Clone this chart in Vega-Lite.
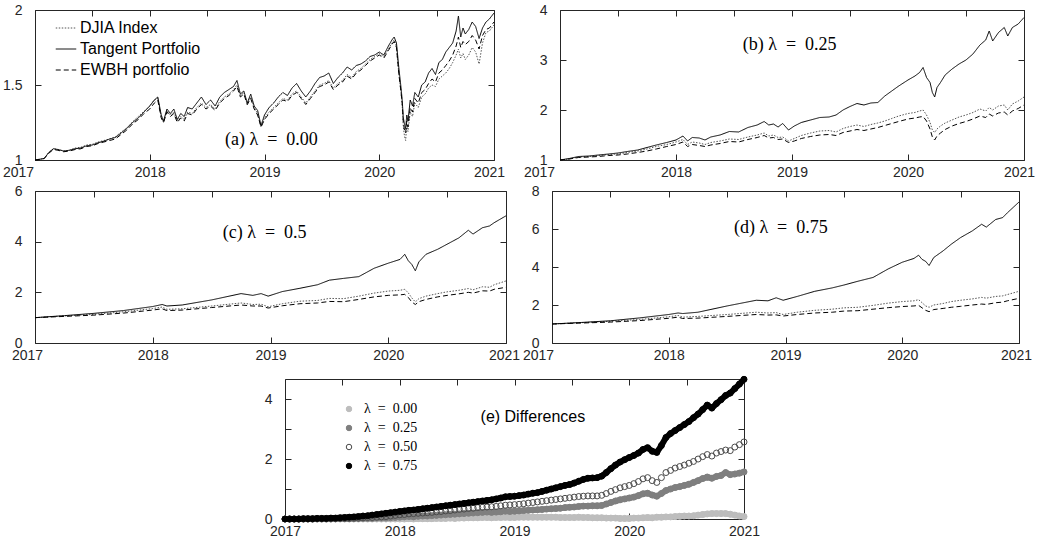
{
"$schema": "https://vega.github.io/schema/vega-lite/v6.json",
"padding": {"left": 1, "top": 2, "right": 5, "bottom": 5},
"background": "white",
"config": {
  "view": {"stroke": "#262626", "strokeWidth": 1},
  "font": "Liberation Sans",
  "axis": {"domain": false, "grid": false, "labelFlush": false, "labelOverlap": false, "tickColor": "#262626", "tickSize": -6, "labelFont": "Liberation Sans", "labelFontSize": 14, "labelColor": "#262626", "title": null},
  "legend": {"labelFont": "Liberation Sans", "labelColor": "#000"}
},
"datasets": {
"A": [
{"t":2017.00,"T":1.000,"E":1.000,"D":1.000},{"t":2017.04,"T":1.005,"E":1.003,"D":1.005},{"t":2017.08,"T":1.01,"E":1.01,"D":1.01},{"t":2017.12,"T":1.05,"E":1.045,"D":1.05},{"t":2017.16,"T":1.075,"E":1.07,"D":1.075},{"t":2017.20,"T":1.07,"E":1.065,"D":1.07},{"t":2017.25,"T":1.06,"E":1.055,"D":1.06},{"t":2017.30,"T":1.065,"E":1.06,"D":1.065},{"t":2017.35,"T":1.075,"E":1.07,"D":1.08},{"t":2017.40,"T":1.08,"E":1.075,"D":1.085},{"t":2017.45,"T":1.095,"E":1.09,"D":1.10},{"t":2017.50,"T":1.10,"E":1.095,"D":1.105},{"t":2017.55,"T":1.115,"E":1.11,"D":1.12},{"t":2017.60,"T":1.125,"E":1.12,"D":1.13},{"t":2017.65,"T":1.14,"E":1.13,"D":1.14},{"t":2017.70,"T":1.15,"E":1.14,"D":1.155},{"t":2017.75,"T":1.18,"E":1.17,"D":1.185},{"t":2017.80,"T":1.21,"E":1.20,"D":1.215},{"t":2017.85,"T":1.25,"E":1.24,"D":1.255},{"t":2017.90,"T":1.28,"E":1.27,"D":1.29},{"t":2017.95,"T":1.32,"E":1.31,"D":1.325},{"t":2018.00,"T":1.36,"E":1.34,"D":1.36},{"t":2018.04,"T":1.40,"E":1.38,"D":1.40},{"t":2018.07,"T":1.42,"E":1.40,"D":1.41},{"t":2018.10,"T":1.30,"E":1.28,"D":1.29},{"t":2018.12,"T":1.26,"E":1.25,"D":1.25},{"t":2018.15,"T":1.34,"E":1.32,"D":1.33},{"t":2018.18,"T":1.31,"E":1.29,"D":1.30},{"t":2018.21,"T":1.34,"E":1.31,"D":1.32},{"t":2018.24,"T":1.27,"E":1.25,"D":1.26},{"t":2018.27,"T":1.31,"E":1.28,"D":1.29},{"t":2018.30,"T":1.29,"E":1.26,"D":1.27},{"t":2018.33,"T":1.35,"E":1.31,"D":1.32},{"t":2018.37,"T":1.34,"E":1.30,"D":1.31},{"t":2018.41,"T":1.38,"E":1.34,"D":1.35},{"t":2018.45,"T":1.42,"E":1.37,"D":1.38},{"t":2018.49,"T":1.37,"E":1.34,"D":1.35},{"t":2018.53,"T":1.40,"E":1.36,"D":1.37},{"t":2018.57,"T":1.36,"E":1.33,"D":1.34},{"t":2018.61,"T":1.42,"E":1.38,"D":1.39},{"t":2018.65,"T":1.45,"E":1.41,"D":1.42},{"t":2018.69,"T":1.47,"E":1.43,"D":1.44},{"t":2018.73,"T":1.49,"E":1.46,"D":1.47},{"t":2018.76,"T":1.53,"E":1.49,"D":1.50},{"t":2018.79,"T":1.44,"E":1.42,"D":1.43},{"t":2018.82,"T":1.46,"E":1.44,"D":1.45},{"t":2018.85,"T":1.38,"E":1.37,"D":1.37},{"t":2018.88,"T":1.44,"E":1.41,"D":1.42},{"t":2018.91,"T":1.36,"E":1.34,"D":1.35},{"t":2018.94,"T":1.33,"E":1.30,"D":1.31},{"t":2018.97,"T":1.23,"E":1.22,"D":1.22},{"t":2019.00,"T":1.30,"E":1.27,"D":1.28},{"t":2019.04,"T":1.35,"E":1.31,"D":1.32},{"t":2019.08,"T":1.38,"E":1.34,"D":1.35},{"t":2019.12,"T":1.42,"E":1.37,"D":1.38},{"t":2019.16,"T":1.45,"E":1.40,"D":1.41},{"t":2019.20,"T":1.43,"E":1.39,"D":1.40},{"t":2019.24,"T":1.48,"E":1.43,"D":1.44},{"t":2019.28,"T":1.51,"E":1.45,"D":1.46},{"t":2019.32,"T":1.46,"E":1.41,"D":1.42},{"t":2019.36,"T":1.42,"E":1.37,"D":1.38},{"t":2019.40,"T":1.46,"E":1.41,"D":1.42},{"t":2019.44,"T":1.51,"E":1.45,"D":1.46},{"t":2019.48,"T":1.55,"E":1.49,"D":1.50},{"t":2019.52,"T":1.56,"E":1.50,"D":1.51},{"t":2019.56,"T":1.58,"E":1.52,"D":1.53},{"t":2019.60,"T":1.51,"E":1.47,"D":1.48},{"t":2019.64,"T":1.55,"E":1.50,"D":1.51},{"t":2019.68,"T":1.58,"E":1.52,"D":1.53},{"t":2019.72,"T":1.62,"E":1.56,"D":1.57},{"t":2019.76,"T":1.60,"E":1.54,"D":1.55},{"t":2019.80,"T":1.63,"E":1.58,"D":1.59},{"t":2019.84,"T":1.64,"E":1.60,"D":1.61},{"t":2019.88,"T":1.66,"E":1.63,"D":1.64},{"t":2019.92,"T":1.69,"E":1.66,"D":1.67},{"t":2019.96,"T":1.70,"E":1.68,"D":1.69},{"t":2020.00,"T":1.72,"E":1.70,"D":1.71},{"t":2020.04,"T":1.70,"E":1.68,"D":1.69},{"t":2020.08,"T":1.76,"E":1.73,"D":1.74},{"t":2020.11,"T":1.80,"E":1.77,"D":1.78},{"t":2020.13,"T":1.82,"E":1.79,"D":1.80},{"t":2020.15,"T":1.78,"E":1.75,"D":1.76},{"t":2020.17,"T":1.62,"E":1.58,"D":1.58},{"t":2020.19,"T":1.48,"E":1.45,"D":1.45},{"t":2020.20,"T":1.40,"E":1.38,"D":1.36},{"t":2020.21,"T":1.28,"E":1.25,"D":1.22},{"t":2020.22,"T":1.24,"E":1.20,"D":1.16},{"t":2020.23,"T":1.21,"E":1.18,"D":1.13},{"t":2020.24,"T":1.30,"E":1.26,"D":1.24},{"t":2020.25,"T":1.26,"E":1.22,"D":1.19},{"t":2020.27,"T":1.40,"E":1.35,"D":1.32},{"t":2020.29,"T":1.36,"E":1.32,"D":1.29},{"t":2020.31,"T":1.45,"E":1.41,"D":1.38},{"t":2020.34,"T":1.42,"E":1.38,"D":1.35},{"t":2020.37,"T":1.50,"E":1.45,"D":1.42},{"t":2020.40,"T":1.52,"E":1.47,"D":1.44},{"t":2020.43,"T":1.58,"E":1.51,"D":1.48},{"t":2020.46,"T":1.61,"E":1.54,"D":1.50},{"t":2020.49,"T":1.57,"E":1.52,"D":1.49},{"t":2020.52,"T":1.65,"E":1.58,"D":1.54},{"t":2020.55,"T":1.67,"E":1.60,"D":1.56},{"t":2020.58,"T":1.72,"E":1.63,"D":1.58},{"t":2020.61,"T":1.75,"E":1.66,"D":1.61},{"t":2020.64,"T":1.78,"E":1.70,"D":1.65},{"t":2020.67,"T":1.86,"E":1.76,"D":1.70},{"t":2020.69,"T":1.96,"E":1.82,"D":1.74},{"t":2020.71,"T":1.82,"E":1.75,"D":1.68},{"t":2020.73,"T":1.88,"E":1.79,"D":1.71},{"t":2020.75,"T":1.84,"E":1.77,"D":1.67},{"t":2020.78,"T":1.87,"E":1.79,"D":1.70},{"t":2020.81,"T":1.92,"E":1.83,"D":1.75},{"t":2020.84,"T":1.89,"E":1.80,"D":1.72},{"t":2020.87,"T":1.81,"E":1.74,"D":1.64},{"t":2020.90,"T":1.88,"E":1.83,"D":1.78},{"t":2020.93,"T":1.92,"E":1.87,"D":1.85},{"t":2020.96,"T":1.94,"E":1.88,"D":1.86},{"t":2021.00,"T":1.98,"E":1.92,"D":1.90}
],
"B": [
{"t":2017.00,"T":1.00,"D":1.00,"E":1.00},{"t":2017.08,"T":1.03,"D":1.02,"E":1.02},{"t":2017.16,"T":1.07,"D":1.06,"E":1.05},{"t":2017.25,"T":1.08,"D":1.07,"E":1.06},{"t":2017.33,"T":1.10,"D":1.09,"E":1.07},{"t":2017.42,"T":1.12,"D":1.11,"E":1.09},{"t":2017.50,"T":1.14,"D":1.12,"E":1.10},{"t":2017.58,"T":1.17,"D":1.15,"E":1.12},{"t":2017.67,"T":1.20,"D":1.18,"E":1.15},{"t":2017.75,"T":1.25,"D":1.22,"E":1.18},{"t":2017.83,"T":1.30,"D":1.27,"E":1.22},{"t":2017.92,"T":1.35,"D":1.31,"E":1.27},{"t":2018.00,"T":1.40,"D":1.36,"E":1.31},{"t":2018.06,"T":1.48,"D":1.41,"E":1.36},{"t":2018.10,"T":1.38,"D":1.31,"E":1.27},{"t":2018.14,"T":1.45,"D":1.36,"E":1.31},{"t":2018.20,"T":1.44,"D":1.34,"E":1.29},{"t":2018.25,"T":1.40,"D":1.31,"E":1.27},{"t":2018.30,"T":1.46,"D":1.35,"E":1.30},{"t":2018.38,"T":1.50,"D":1.38,"E":1.33},{"t":2018.46,"T":1.57,"D":1.42,"E":1.37},{"t":2018.54,"T":1.56,"D":1.41,"E":1.36},{"t":2018.62,"T":1.65,"D":1.46,"E":1.41},{"t":2018.70,"T":1.70,"D":1.50,"E":1.45},{"t":2018.76,"T":1.77,"D":1.54,"E":1.49},{"t":2018.80,"T":1.70,"D":1.48,"E":1.44},{"t":2018.84,"T":1.72,"D":1.50,"E":1.45},{"t":2018.88,"T":1.66,"D":1.45,"E":1.41},{"t":2018.92,"T":1.73,"D":1.46,"E":1.42},{"t":2018.97,"T":1.60,"D":1.38,"E":1.35},{"t":2019.02,"T":1.68,"D":1.43,"E":1.38},{"t":2019.08,"T":1.75,"D":1.49,"E":1.43},{"t":2019.16,"T":1.80,"D":1.54,"E":1.47},{"t":2019.24,"T":1.85,"D":1.58,"E":1.50},{"t":2019.32,"T":1.86,"D":1.59,"E":1.51},{"t":2019.38,"T":1.90,"D":1.56,"E":1.49},{"t":2019.44,"T":2.00,"D":1.63,"E":1.55},{"t":2019.50,"T":2.07,"D":1.67,"E":1.58},{"t":2019.56,"T":2.13,"D":1.70,"E":1.61},{"t":2019.62,"T":2.10,"D":1.67,"E":1.59},{"t":2019.68,"T":2.14,"D":1.71,"E":1.62},{"t":2019.74,"T":2.15,"D":1.74,"E":1.65},{"t":2019.80,"T":2.28,"D":1.78,"E":1.69},{"t":2019.86,"T":2.38,"D":1.83,"E":1.73},{"t":2019.92,"T":2.48,"D":1.88,"E":1.77},{"t":2020.00,"T":2.60,"D":1.93,"E":1.82},{"t":2020.06,"T":2.68,"D":1.95,"E":1.84},{"t":2020.10,"T":2.75,"D":1.98,"E":1.86},{"t":2020.13,"T":2.85,"D":2.00,"E":1.87},{"t":2020.16,"T":2.65,"D":1.90,"E":1.78},{"t":2020.19,"T":2.55,"D":1.75,"E":1.62},{"t":2020.21,"T":2.35,"D":1.60,"E":1.46},{"t":2020.23,"T":2.26,"D":1.55,"E":1.40},{"t":2020.25,"T":2.45,"D":1.62,"E":1.48},{"t":2020.28,"T":2.55,"D":1.68,"E":1.54},{"t":2020.32,"T":2.70,"D":1.74,"E":1.61},{"t":2020.38,"T":2.82,"D":1.80,"E":1.68},{"t":2020.44,"T":2.92,"D":1.86,"E":1.73},{"t":2020.50,"T":3.00,"D":1.90,"E":1.77},{"t":2020.56,"T":3.12,"D":1.95,"E":1.82},{"t":2020.62,"T":3.30,"D":2.02,"E":1.88},{"t":2020.67,"T":3.40,"D":1.98,"E":1.85},{"t":2020.70,"T":3.58,"D":2.05,"E":1.92},{"t":2020.73,"T":3.38,"D":2.00,"E":1.88},{"t":2020.78,"T":3.55,"D":2.08,"E":1.94},{"t":2020.83,"T":3.65,"D":2.10,"E":1.96},{"t":2020.86,"T":3.48,"D":2.00,"E":1.90},{"t":2020.90,"T":3.65,"D":2.12,"E":1.98},{"t":2020.95,"T":3.72,"D":2.18,"E":2.03},{"t":2021.00,"T":3.85,"D":2.26,"E":2.10}
],
"C": [
{"t":2017.00,"T":1.00,"D":1.00,"E":1.00},{"t":2017.25,"T":1.08,"D":1.07,"E":1.05},{"t":2017.50,"T":1.17,"D":1.13,"E":1.10},{"t":2017.75,"T":1.28,"D":1.23,"E":1.18},{"t":2018.00,"T":1.44,"D":1.36,"E":1.30},{"t":2018.08,"T":1.52,"D":1.42,"E":1.35},{"t":2018.12,"T":1.46,"D":1.33,"E":1.28},{"t":2018.25,"T":1.50,"D":1.35,"E":1.30},{"t":2018.50,"T":1.70,"D":1.46,"E":1.40},{"t":2018.75,"T":1.95,"D":1.58,"E":1.50},{"t":2018.85,"T":1.88,"D":1.52,"E":1.46},{"t":2018.92,"T":1.95,"D":1.53,"E":1.46},{"t":2018.98,"T":1.85,"D":1.43,"E":1.38},{"t":2019.10,"T":2.03,"D":1.55,"E":1.47},{"t":2019.25,"T":2.16,"D":1.65,"E":1.55},{"t":2019.40,"T":2.30,"D":1.68,"E":1.58},{"t":2019.50,"T":2.48,"D":1.76,"E":1.64},{"t":2019.62,"T":2.55,"D":1.75,"E":1.63},{"t":2019.75,"T":2.62,"D":1.85,"E":1.72},{"t":2019.88,"T":2.95,"D":1.97,"E":1.82},{"t":2020.00,"T":3.15,"D":2.05,"E":1.88},{"t":2020.10,"T":3.30,"D":2.08,"E":1.90},{"t":2020.14,"T":3.50,"D":2.12,"E":1.92},{"t":2020.17,"T":3.25,"D":1.98,"E":1.80},{"t":2020.20,"T":3.10,"D":1.78,"E":1.62},{"t":2020.23,"T":2.85,"D":1.62,"E":1.52},{"t":2020.26,"T":3.20,"D":1.75,"E":1.63},{"t":2020.32,"T":3.50,"D":1.85,"E":1.72},{"t":2020.42,"T":3.70,"D":1.95,"E":1.82},{"t":2020.50,"T":3.90,"D":2.02,"E":1.88},{"t":2020.60,"T":4.15,"D":2.08,"E":1.94},{"t":2020.68,"T":4.45,"D":2.15,"E":2.00},{"t":2020.72,"T":4.30,"D":2.10,"E":1.97},{"t":2020.80,"T":4.55,"D":2.22,"E":2.06},{"t":2020.86,"T":4.62,"D":2.20,"E":2.05},{"t":2020.90,"T":4.75,"D":2.30,"E":2.12},{"t":2021.00,"T":5.02,"D":2.45,"E":2.20}
],
"D": [
{"t":2017.00,"T":1.00,"D":1.00,"E":1.00},{"t":2017.25,"T":1.08,"D":1.07,"E":1.05},{"t":2017.50,"T":1.17,"D":1.14,"E":1.10},{"t":2017.75,"T":1.32,"D":1.24,"E":1.18},{"t":2018.00,"T":1.50,"D":1.38,"E":1.30},{"t":2018.08,"T":1.58,"D":1.45,"E":1.36},{"t":2018.12,"T":1.55,"D":1.36,"E":1.29},{"t":2018.25,"T":1.62,"D":1.40,"E":1.31},{"t":2018.50,"T":1.95,"D":1.50,"E":1.40},{"t":2018.75,"T":2.25,"D":1.62,"E":1.50},{"t":2018.85,"T":2.22,"D":1.58,"E":1.47},{"t":2018.92,"T":2.38,"D":1.60,"E":1.48},{"t":2018.98,"T":2.25,"D":1.50,"E":1.42},{"t":2019.10,"T":2.45,"D":1.62,"E":1.50},{"t":2019.25,"T":2.72,"D":1.72,"E":1.58},{"t":2019.40,"T":2.90,"D":1.78,"E":1.62},{"t":2019.50,"T":3.05,"D":1.85,"E":1.68},{"t":2019.62,"T":3.25,"D":1.88,"E":1.70},{"t":2019.75,"T":3.45,"D":1.98,"E":1.78},{"t":2019.88,"T":3.90,"D":2.10,"E":1.86},{"t":2020.00,"T":4.25,"D":2.18,"E":1.92},{"t":2020.10,"T":4.45,"D":2.22,"E":1.95},{"t":2020.14,"T":4.62,"D":2.28,"E":1.98},{"t":2020.17,"T":4.40,"D":2.12,"E":1.85},{"t":2020.20,"T":4.30,"D":1.95,"E":1.72},{"t":2020.23,"T":4.08,"D":1.88,"E":1.65},{"t":2020.27,"T":4.50,"D":2.00,"E":1.76},{"t":2020.35,"T":4.85,"D":2.08,"E":1.82},{"t":2020.42,"T":5.20,"D":2.18,"E":1.88},{"t":2020.50,"T":5.55,"D":2.25,"E":1.93},{"t":2020.60,"T":5.90,"D":2.32,"E":2.00},{"t":2020.68,"T":6.25,"D":2.40,"E":2.05},{"t":2020.72,"T":6.10,"D":2.36,"E":2.03},{"t":2020.80,"T":6.50,"D":2.45,"E":2.12},{"t":2020.86,"T":6.60,"D":2.48,"E":2.15},{"t":2020.90,"T":6.85,"D":2.55,"E":2.22},{"t":2021.00,"T":7.42,"D":2.72,"E":2.35}
],
"E": [
{"t":2017.00,"l00":0,"l25":0,"l50":0,"l75":0},{"t":2017.04,"l00":0,"l25":0,"l50":0,"l75":0},{"t":2017.08,"l00":0,"l25":0,"l50":0,"l75":0},{"t":2017.12,"l00":0,"l25":0,"l50":0,"l75":0},{"t":2017.16,"l00":0,"l25":0,"l50":0,"l75":0.01},{"t":2017.20,"l00":0,"l25":0,"l50":0,"l75":0.01},{"t":2017.24,"l00":0,"l25":0,"l50":0,"l75":0.01},{"t":2017.28,"l00":0,"l25":0,"l50":0.01,"l75":0.02},{"t":2017.32,"l00":0,"l25":0,"l50":0.01,"l75":0.02},{"t":2017.36,"l00":0,"l25":0,"l50":0.01,"l75":0.02},{"t":2017.40,"l00":0,"l25":0,"l50":0.01,"l75":0.03},{"t":2017.44,"l00":0,"l25":0.01,"l50":0.01,"l75":0.03},{"t":2017.48,"l00":0,"l25":0.01,"l50":0.02,"l75":0.04},{"t":2017.52,"l00":0,"l25":0.01,"l50":0.02,"l75":0.05},{"t":2017.56,"l00":0,"l25":0.01,"l50":0.02,"l75":0.06},{"t":2017.60,"l00":0,"l25":0.01,"l50":0.03,"l75":0.07},{"t":2017.64,"l00":0,"l25":0.02,"l50":0.03,"l75":0.08},{"t":2017.68,"l00":0,"l25":0.02,"l50":0.04,"l75":0.10},{"t":2017.72,"l00":0,"l25":0.02,"l50":0.05,"l75":0.11},{"t":2017.76,"l00":0,"l25":0.02,"l50":0.05,"l75":0.13},{"t":2017.80,"l00":0,"l25":0.03,"l50":0.06,"l75":0.15},{"t":2017.84,"l00":0,"l25":0.03,"l50":0.07,"l75":0.17},{"t":2017.88,"l00":0,"l25":0.03,"l50":0.08,"l75":0.19},{"t":2017.92,"l00":0,"l25":0.04,"l50":0.10,"l75":0.21},{"t":2017.96,"l00":0,"l25":0.05,"l50":0.12,"l75":0.23},{"t":2018.00,"l00":0,"l25":0.06,"l50":0.14,"l75":0.25},{"t":2018.04,"l00":0,"l25":0.07,"l50":0.15,"l75":0.27},{"t":2018.08,"l00":0.01,"l25":0.08,"l50":0.17,"l75":0.29},{"t":2018.12,"l00":0,"l25":0.07,"l50":0.18,"l75":0.30},{"t":2018.16,"l00":0.01,"l25":0.09,"l50":0.19,"l75":0.32},{"t":2018.20,"l00":0.01,"l25":0.10,"l50":0.20,"l75":0.34},{"t":2018.24,"l00":0.01,"l25":0.10,"l50":0.21,"l75":0.36},{"t":2018.28,"l00":0.01,"l25":0.11,"l50":0.22,"l75":0.38},{"t":2018.32,"l00":0.02,"l25":0.12,"l50":0.24,"l75":0.40},{"t":2018.36,"l00":0.02,"l25":0.13,"l50":0.25,"l75":0.42},{"t":2018.40,"l00":0.02,"l25":0.14,"l50":0.27,"l75":0.44},{"t":2018.44,"l00":0.03,"l25":0.15,"l50":0.28,"l75":0.46},{"t":2018.48,"l00":0.02,"l25":0.16,"l50":0.30,"l75":0.48},{"t":2018.52,"l00":0.03,"l25":0.17,"l50":0.32,"l75":0.50},{"t":2018.56,"l00":0.03,"l25":0.18,"l50":0.33,"l75":0.52},{"t":2018.60,"l00":0.04,"l25":0.19,"l50":0.35,"l75":0.54},{"t":2018.64,"l00":0.04,"l25":0.20,"l50":0.36,"l75":0.56},{"t":2018.68,"l00":0.04,"l25":0.21,"l50":0.38,"l75":0.58},{"t":2018.72,"l00":0.05,"l25":0.22,"l50":0.39,"l75":0.60},{"t":2018.76,"l00":0.05,"l25":0.23,"l50":0.40,"l75":0.62},{"t":2018.80,"l00":0.04,"l25":0.22,"l50":0.41,"l75":0.64},{"t":2018.84,"l00":0.05,"l25":0.23,"l50":0.42,"l75":0.67},{"t":2018.88,"l00":0.05,"l25":0.24,"l50":0.44,"l75":0.70},{"t":2018.92,"l00":0.06,"l25":0.26,"l50":0.46,"l75":0.74},{"t":2018.96,"l00":0.05,"l25":0.25,"l50":0.47,"l75":0.75},{"t":2019.00,"l00":0.05,"l25":0.26,"l50":0.48,"l75":0.76},{"t":2019.04,"l00":0.06,"l25":0.27,"l50":0.49,"l75":0.78},{"t":2019.08,"l00":0.06,"l25":0.28,"l50":0.51,"l75":0.80},{"t":2019.12,"l00":0.06,"l25":0.29,"l50":0.53,"l75":0.83},{"t":2019.16,"l00":0.06,"l25":0.30,"l50":0.55,"l75":0.86},{"t":2019.20,"l00":0.06,"l25":0.31,"l50":0.57,"l75":0.88},{"t":2019.24,"l00":0.06,"l25":0.32,"l50":0.59,"l75":0.92},{"t":2019.28,"l00":0.06,"l25":0.33,"l50":0.61,"l75":0.96},{"t":2019.32,"l00":0.06,"l25":0.34,"l50":0.63,"l75":1.00},{"t":2019.36,"l00":0.06,"l25":0.35,"l50":0.65,"l75":1.04},{"t":2019.40,"l00":0.05,"l25":0.36,"l50":0.67,"l75":1.08},{"t":2019.44,"l00":0.05,"l25":0.38,"l50":0.69,"l75":1.12},{"t":2019.48,"l00":0.05,"l25":0.39,"l50":0.71,"l75":1.15},{"t":2019.52,"l00":0.05,"l25":0.40,"l50":0.73,"l75":1.20},{"t":2019.56,"l00":0.06,"l25":0.42,"l50":0.75,"l75":1.26},{"t":2019.60,"l00":0.05,"l25":0.43,"l50":0.76,"l75":1.32},{"t":2019.64,"l00":0.05,"l25":0.43,"l50":0.77,"l75":1.36},{"t":2019.68,"l00":0.04,"l25":0.44,"l50":0.77,"l75":1.37},{"t":2019.72,"l00":0.04,"l25":0.44,"l50":0.77,"l75":1.38},{"t":2019.76,"l00":0.04,"l25":0.45,"l50":0.79,"l75":1.43},{"t":2019.80,"l00":0.03,"l25":0.50,"l50":0.85,"l75":1.55},{"t":2019.84,"l00":0.03,"l25":0.55,"l50":0.92,"l75":1.68},{"t":2019.88,"l00":0.03,"l25":0.60,"l50":0.98,"l75":1.80},{"t":2019.92,"l00":0.02,"l25":0.64,"l50":1.04,"l75":1.90},{"t":2019.96,"l00":0.02,"l25":0.67,"l50":1.08,"l75":1.98},{"t":2020.00,"l00":0.02,"l25":0.70,"l50":1.12,"l75":2.05},{"t":2020.04,"l00":0.03,"l25":0.73,"l50":1.18,"l75":2.12},{"t":2020.08,"l00":0.03,"l25":0.78,"l50":1.25,"l75":2.20},{"t":2020.12,"l00":0.04,"l25":0.84,"l50":1.34,"l75":2.32},{"t":2020.16,"l00":0.05,"l25":0.86,"l50":1.38,"l75":2.38},{"t":2020.20,"l00":0.04,"l25":0.80,"l50":1.28,"l75":2.26},{"t":2020.24,"l00":0.06,"l25":0.76,"l50":1.22,"l75":2.22},{"t":2020.28,"l00":0.06,"l25":0.85,"l50":1.38,"l75":2.45},{"t":2020.32,"l00":0.07,"l25":0.95,"l50":1.55,"l75":2.72},{"t":2020.36,"l00":0.07,"l25":1.00,"l50":1.62,"l75":2.85},{"t":2020.40,"l00":0.08,"l25":1.05,"l50":1.70,"l75":2.95},{"t":2020.44,"l00":0.09,"l25":1.08,"l50":1.75,"l75":3.05},{"t":2020.48,"l00":0.10,"l25":1.12,"l50":1.80,"l75":3.15},{"t":2020.52,"l00":0.10,"l25":1.16,"l50":1.86,"l75":3.25},{"t":2020.56,"l00":0.11,"l25":1.22,"l50":1.92,"l75":3.38},{"t":2020.60,"l00":0.13,"l25":1.28,"l50":2.00,"l75":3.50},{"t":2020.64,"l00":0.15,"l25":1.35,"l50":2.08,"l75":3.65},{"t":2020.68,"l00":0.17,"l25":1.40,"l50":2.15,"l75":3.80},{"t":2020.72,"l00":0.18,"l25":1.36,"l50":2.10,"l75":3.70},{"t":2020.76,"l00":0.18,"l25":1.42,"l50":2.20,"l75":3.85},{"t":2020.80,"l00":0.18,"l25":1.45,"l50":2.25,"l75":3.98},{"t":2020.84,"l00":0.18,"l25":1.55,"l50":2.30,"l75":4.12},{"t":2020.88,"l00":0.16,"l25":1.48,"l50":2.28,"l75":4.20},{"t":2020.92,"l00":0.13,"l25":1.50,"l50":2.40,"l75":4.35},{"t":2020.96,"l00":0.10,"l25":1.53,"l50":2.48,"l75":4.50},{"t":2021.00,"l00":0.08,"l25":1.57,"l50":2.57,"l75":4.66}
]
},
"vconcat": [
{
"vconcat": [
{
"hconcat": [
{
"width": 459, "height": 150,
"layer": [
{
"data": {"name": "A"},
"transform": [{"fold": ["D", "T", "E"], "as": ["s", "v"]}],
"mark": {"type": "line", "strokeWidth": 1},
"encoding": {
"x": {"field": "t", "type": "quantitative", "scale": {"domain": [2017, 2021], "nice": false, "zero": false}, "axis": {"orient": "bottom", "values": [2017, 2017.5, 2018, 2018.5, 2019, 2019.5, 2020, 2020.5, 2021], "format": "d", "labelExpr": "datum.value % 1 === 0 ? datum.label : ''", "labelPadding": 11, "labelOffset": {"condition": [{"test": "datum.value == 2017", "value": -17}, {"test": "datum.value == 2021", "value": -5}], "value": 0}}},
"y": {"field": "v", "type": "quantitative", "scale": {"domain": [1, 2], "nice": false, "zero": false}, "axis": {"orient": "left", "values": [1, 1.5, 2], "format": "~g", "labelPadding": 19}},
"color": {"field": "s", "type": "nominal", "scale": {"domain": ["D", "T", "E"], "range": ["#555555", "#000000", "#000000"]}, "legend": {"orient": "none", "legendX": 20, "legendY": 7, "title": null, "symbolType": "stroke", "symbolSize": 420, "symbolStrokeWidth": 1, "labelFontSize": 16, "labelOffset": 3, "rowPadding": 2, "labelExpr": "datum.label == 'D' ? 'DJIA Index' : datum.label == 'T' ? 'Tangent Portfolio' : 'EWBH portfolio'"}},
"strokeDash": {"field": "s", "type": "nominal", "scale": {"domain": ["D", "T", "E"], "range": [[1.5, 1.5], [1, 0], [5, 3]]}, "legend": {"orient": "none", "legendX": 20, "legendY": 7, "title": null, "symbolType": "stroke", "symbolSize": 420, "symbolStrokeWidth": 1, "labelFontSize": 16, "labelOffset": 3, "rowPadding": 2, "labelExpr": "datum.label == 'D' ? 'DJIA Index' : datum.label == 'T' ? 'Tangent Portfolio' : 'EWBH portfolio'"}}
}
},
{
"data": {"values": [{"t": 2019.06, "v": 1.135, "txt": "(a) λ\u2002=\u20020.00"}]},
"mark": {"type": "text", "font": "Liberation Serif", "fontSize": 18, "color": "#000000", "align": "center", "baseline": "middle"},
"encoding": {
"x": {"field": "t", "type": "quantitative", "scale": {"domain": [2017, 2021], "nice": false, "zero": false}, "axis": {"orient": "top", "values": [2017, 2017.5, 2018, 2018.5, 2019, 2019.5, 2020, 2020.5, 2021], "labels": false}},
"y": {"field": "v", "type": "quantitative", "scale": {"domain": [1, 2], "nice": false, "zero": false}, "axis": {"orient": "right", "values": [1, 1.5, 2], "labels": false}},
"text": {"field": "txt"}
}
}
],
"resolve": {"axis": {"x": "independent", "y": "independent"}}
},
{
"width": 464, "height": 150,
"layer": [
{
"data": {"name": "B"},
"transform": [{"fold": ["D", "T", "E"], "as": ["s", "v"]}],
"mark": {"type": "line", "strokeWidth": 1},
"encoding": {
"x": {"field": "t", "type": "quantitative", "scale": {"domain": [2017, 2021], "nice": false, "zero": false}, "axis": {"orient": "bottom", "values": [2017, 2017.5, 2018, 2018.5, 2019, 2019.5, 2020, 2020.5, 2021], "format": "d", "labelExpr": "datum.value % 1 === 0 ? datum.label : ''", "labelPadding": 11, "labelOffset": {"condition": [{"test": "datum.value == 2017", "value": -21}, {"test": "datum.value == 2021", "value": -5}], "value": 0}}},
"y": {"field": "v", "type": "quantitative", "scale": {"domain": [1, 4], "nice": false, "zero": false}, "axis": {"orient": "left", "values": [1, 2, 3, 4], "format": "~g", "labelPadding": 19}},
"color": {"field": "s", "type": "nominal", "scale": {"domain": ["D", "T", "E"], "range": ["#555555", "#000000", "#000000"]}, "legend": null},
"strokeDash": {"field": "s", "type": "nominal", "scale": {"domain": ["D", "T", "E"], "range": [[1.5, 1.5], [1, 0], [5, 3]]}, "legend": null}
}
},
{
"data": {"values": [{"t": 2018.98, "v": 3.30, "txt": "(b) λ\u2002=\u20020.25"}]},
"mark": {"type": "text", "font": "Liberation Serif", "fontSize": 18, "color": "#000000", "align": "center", "baseline": "middle"},
"encoding": {
"x": {"field": "t", "type": "quantitative", "scale": {"domain": [2017, 2021], "nice": false, "zero": false}, "axis": {"orient": "top", "values": [2017, 2017.5, 2018, 2018.5, 2019, 2019.5, 2020, 2020.5, 2021], "labels": false}},
"y": {"field": "v", "type": "quantitative", "scale": {"domain": [1, 4], "nice": false, "zero": false}, "axis": {"orient": "right", "values": [1, 2, 3, 4], "labels": false}},
"text": {"field": "txt"}
}
}
],
"resolve": {"axis": {"x": "independent", "y": "independent"}}
}
],
"spacing": 66, "bounds": "flush",
"resolve": {"scale": {"color": "independent", "strokeDash": "independent"}, "legend": {"color": "independent", "strokeDash": "independent"}}
},
{
"hconcat": [
{
"width": 471, "height": 152,
"layer": [
{
"data": {"name": "C"},
"transform": [{"fold": ["D", "T", "E"], "as": ["s", "v"]}],
"mark": {"type": "line", "strokeWidth": 1},
"encoding": {
"x": {"field": "t", "type": "quantitative", "scale": {"domain": [2017, 2021], "nice": false, "zero": false}, "axis": {"orient": "bottom", "values": [2017, 2017.5, 2018, 2018.5, 2019, 2019.5, 2020, 2020.5, 2021], "format": "d", "labelExpr": "datum.value % 1 === 0 ? datum.label : ''", "labelPadding": 11, "labelOffset": {"condition": [{"test": "datum.value == 2017", "value": -8}, {"test": "datum.value == 2021", "value": -2}], "value": 0}}},
"y": {"field": "v", "type": "quantitative", "scale": {"domain": [0, 6], "nice": false, "zero": false}, "axis": {"orient": "left", "values": [0, 2, 4, 6], "format": "~g", "labelPadding": 19}},
"color": {"field": "s", "type": "nominal", "scale": {"domain": ["D", "T", "E"], "range": ["#555555", "#000000", "#000000"]}, "legend": null},
"strokeDash": {"field": "s", "type": "nominal", "scale": {"domain": ["D", "T", "E"], "range": [[1.5, 1.5], [1, 0], [5, 3]]}, "legend": null}
}
},
{
"data": {"values": [{"t": 2018.95, "v": 4.33, "txt": "(c) λ\u2002=\u20020.5"}]},
"mark": {"type": "text", "font": "Liberation Serif", "fontSize": 18, "color": "#000000", "align": "center", "baseline": "middle"},
"encoding": {
"x": {"field": "t", "type": "quantitative", "scale": {"domain": [2017, 2021], "nice": false, "zero": false}, "axis": {"orient": "top", "values": [2017, 2017.5, 2018, 2018.5, 2019, 2019.5, 2020, 2020.5, 2021], "labels": false}},
"y": {"field": "v", "type": "quantitative", "scale": {"domain": [0, 6], "nice": false, "zero": false}, "axis": {"orient": "right", "values": [0, 2, 4, 6], "labels": false}},
"text": {"field": "txt"}
}
}
],
"resolve": {"axis": {"x": "independent", "y": "independent"}}
},
{
"width": 467, "height": 152,
"layer": [
{
"data": {"name": "D"},
"transform": [{"fold": ["D", "T", "E"], "as": ["s", "v"]}],
"mark": {"type": "line", "strokeWidth": 1},
"encoding": {
"x": {"field": "t", "type": "quantitative", "scale": {"domain": [2017, 2021], "nice": false, "zero": false}, "axis": {"orient": "bottom", "values": [2017, 2017.5, 2018, 2018.5, 2019, 2019.5, 2020, 2020.5, 2021], "format": "d", "labelExpr": "datum.value % 1 === 0 ? datum.label : ''", "labelPadding": 11, "labelOffset": {"condition": [{"test": "datum.value == 2017", "value": -14}, {"test": "datum.value == 2021", "value": -3}], "value": 0}}},
"y": {"field": "v", "type": "quantitative", "scale": {"domain": [0, 8], "nice": false, "zero": false}, "axis": {"orient": "left", "values": [0, 2, 4, 6, 8], "format": "~g", "labelPadding": 19}},
"color": {"field": "s", "type": "nominal", "scale": {"domain": ["D", "T", "E"], "range": ["#555555", "#000000", "#000000"]}, "legend": null},
"strokeDash": {"field": "s", "type": "nominal", "scale": {"domain": ["D", "T", "E"], "range": [[1.5, 1.5], [1, 0], [5, 3]]}, "legend": null}
}
},
{
"data": {"values": [{"t": 2018.96, "v": 6.04, "txt": "(d) λ\u2002=\u20020.75"}]},
"mark": {"type": "text", "font": "Liberation Serif", "fontSize": 18, "color": "#000000", "align": "center", "baseline": "middle"},
"encoding": {
"x": {"field": "t", "type": "quantitative", "scale": {"domain": [2017, 2021], "nice": false, "zero": false}, "axis": {"orient": "top", "values": [2017, 2017.5, 2018, 2018.5, 2019, 2019.5, 2020, 2020.5, 2021], "labels": false}},
"y": {"field": "v", "type": "quantitative", "scale": {"domain": [0, 8], "nice": false, "zero": false}, "axis": {"orient": "right", "values": [0, 2, 4, 6, 8], "labels": false}},
"text": {"field": "txt"}
}
}
],
"resolve": {"axis": {"x": "independent", "y": "independent"}}
}
],
"spacing": 46, "bounds": "flush",
"resolve": {"scale": {"color": "independent", "strokeDash": "independent"}, "legend": {"color": "independent", "strokeDash": "independent"}}
}
],
"spacing": 3,
"resolve": {"scale": {"color": "independent", "strokeDash": "independent"}, "legend": {"color": "independent", "strokeDash": "independent"}}
},
{
"hconcat": [
{
"width": 240, "height": 10,
"data": {"values": [{"k": 1}]},
"mark": {"type": "point", "opacity": 0},
"view": {"stroke": null}
},
{
"width": 459, "height": 140,
"layer": [
{
"data": {"name": "E"},
"transform": [{"fold": ["l00", "l25", "l75"], "as": ["lam", "v"]}],
"mark": {"type": "line", "strokeWidth": 6, "strokeCap": "round", "strokeJoin": "round"},
"encoding": {
"x": {"field": "t", "type": "quantitative", "scale": {"domain": [2017, 2021], "nice": false, "zero": false}, "axis": {"orient": "bottom", "values": [2017, 2017.5, 2018, 2018.5, 2019, 2019.5, 2020, 2020.5, 2021], "format": "d", "labelExpr": "datum.value % 1 === 0 ? datum.label : ''", "labelPadding": 11}},
"y": {"field": "v", "type": "quantitative", "scale": {"domain": [0, 4.67], "nice": false, "zero": false}, "axis": {"orient": "left", "values": [0, 1, 2, 3, 4], "format": "~g", "labelExpr": "datum.value % 2 === 0 ? datum.label : ''", "labelPadding": 19}},
"color": {"field": "lam", "type": "nominal", "scale": {"domain": ["l00", "l25", "l75"], "range": ["#bdbdbd", "#7f7f7f", "#000000"]}, "legend": null}
}
},
{
"data": {"name": "E"},
"transform": [{"fold": ["l00", "l25", "l50", "l75"], "as": ["lam", "v"]}],
"mark": {"type": "point", "shape": "circle", "size": 36, "strokeWidth": 1, "opacity": 1},
"encoding": {
"x": {"field": "t", "type": "quantitative", "scale": {"domain": [2017, 2021], "nice": false, "zero": false}, "axis": null},
"y": {"field": "v", "type": "quantitative", "scale": {"domain": [0, 4.67], "nice": false, "zero": false}, "axis": null},
"fill": {"field": "lam", "type": "nominal", "scale": {"domain": ["l00", "l25", "l50", "l75"], "range": ["#bdbdbd", "#7f7f7f", "transparent", "#000000"]}, "legend": {"orient": "none", "legendX": 57, "legendY": 23, "title": null, "symbolType": "circle", "symbolSize": 30, "symbolStrokeWidth": 1, "labelFont": "Liberation Serif", "labelFontSize": 14, "labelOffset": 8, "rowPadding": 5, "labelExpr": "datum.label == 'l00' ? 'λ\u2002=\u20020.00' : datum.label == 'l25' ? 'λ\u2002=\u20020.25' : datum.label == 'l50' ? 'λ\u2002=\u20020.50' : 'λ\u2002=\u20020.75'"}},
"stroke": {"field": "lam", "type": "nominal", "scale": {"domain": ["l00", "l25", "l50", "l75"], "range": ["#bdbdbd", "#7f7f7f", "#4a4a4a", "#000000"]}, "legend": {"orient": "none", "legendX": 57, "legendY": 23, "title": null, "symbolType": "circle", "symbolSize": 30, "symbolStrokeWidth": 1, "labelFont": "Liberation Serif", "labelFontSize": 14, "labelOffset": 8, "rowPadding": 5, "labelExpr": "datum.label == 'l00' ? 'λ\u2002=\u20020.00' : datum.label == 'l25' ? 'λ\u2002=\u20020.25' : datum.label == 'l50' ? 'λ\u2002=\u20020.50' : 'λ\u2002=\u20020.75'"}},
"order": {"field": "lam", "type": "ordinal"}
}
},
{
"data": {"values": [{"t": 2019.16, "v": 3.41, "txt": "(e) Differences"}]},
"mark": {"type": "text", "font": "Liberation Sans", "fontSize": 16, "color": "#000000", "align": "center", "baseline": "middle"},
"encoding": {
"x": {"field": "t", "type": "quantitative", "scale": {"domain": [2017, 2021], "nice": false, "zero": false}, "axis": {"orient": "top", "values": [2017, 2017.5, 2018, 2018.5, 2019, 2019.5, 2020, 2020.5, 2021], "labels": false}},
"y": {"field": "v", "type": "quantitative", "scale": {"domain": [0, 4.67], "nice": false, "zero": false}, "axis": {"orient": "right", "values": [0, 1, 2, 3, 4], "labels": false}},
"text": {"field": "txt"}
}
}
],
"resolve": {"axis": {"x": "independent", "y": "independent"}}
}
],
"spacing": 10, "bounds": "flush",
"resolve": {"scale": {"fill": "independent", "stroke": "independent"}, "legend": {"fill": "independent", "stroke": "independent"}}
}
],
"spacing": 10,
"resolve": {"scale": {"color": "independent", "strokeDash": "independent", "fill": "independent", "stroke": "independent"}, "legend": {"color": "independent", "strokeDash": "independent", "fill": "independent", "stroke": "independent"}}
}
